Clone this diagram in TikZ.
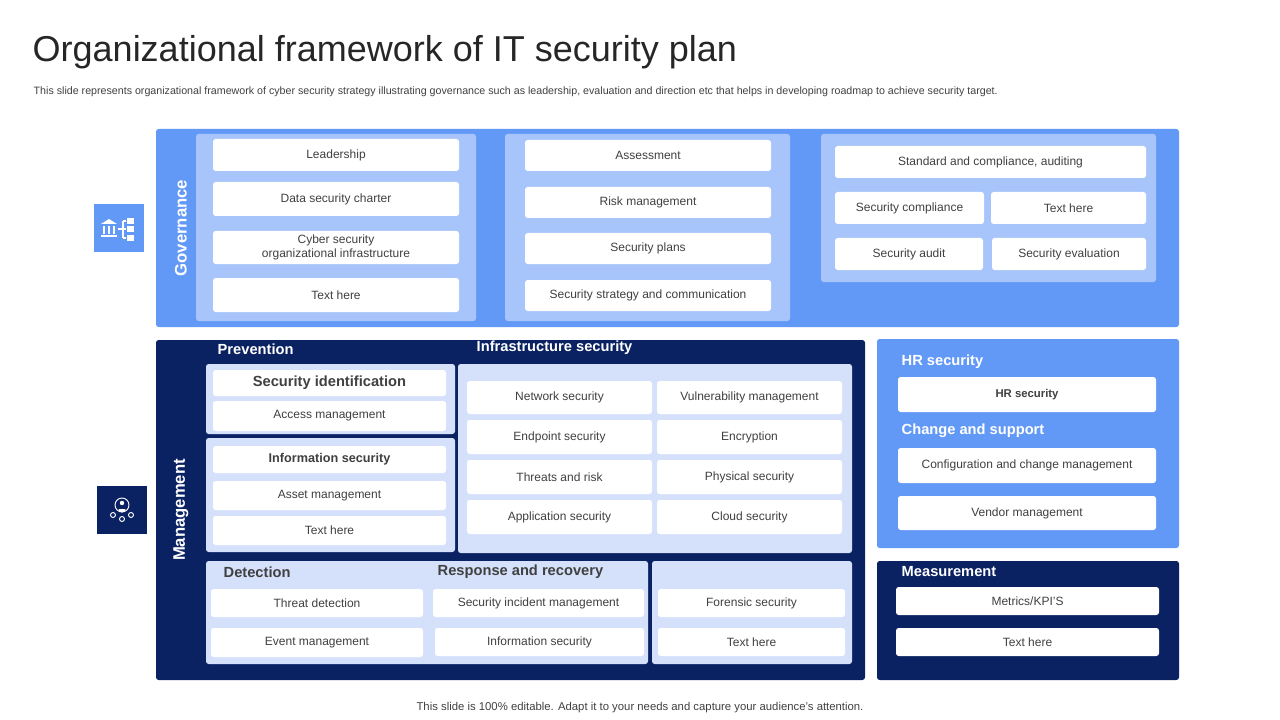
\documentclass[tikz,border=0pt]{standalone}
\usepackage{fontspec}
\setmainfont{Liberation Sans}
\usetikzlibrary{fit}
\definecolor{govblue}{HTML}{6399F6}
\definecolor{govpanel}{HTML}{A7C5FA}
\definecolor{mgmtnavy}{HTML}{0B2262}
\definecolor{mgmtpanel}{HTML}{D5E1FB}
\definecolor{boxtext}{HTML}{404040}
\tikzset{
  panel/.style={inner sep=0pt, rounded corners=2pt},
  item/.style={panel, fill=white, text=boxtext, font=\fontsize{9}{10.5}\selectfont, align=center},
  boldhead/.style={item, font=\fontsize{11}{13}\selectfont\bfseries},
  subhead/.style={item, font=\fontsize{8.5}{10}\selectfont\bfseries},
  sidelabel/.style={rotate=90, text=white, font=\fontsize{12.5}{14}\selectfont\bfseries},
  whitehead/.style={anchor=west, text=white, font=\fontsize{11}{13}\selectfont\bfseries},
  greyhead/.style={anchor=west, text=boxtext, font=\fontsize{11}{13}\selectfont\bfseries},
}
% box from corner (x1,y1) to corner (x2,y2)
\newcommand{\rbox}[6]{\node[#1, fit={(#3,#4)(#5,#6)}] (#2) {};}
\newcommand{\tbox}[7]{\node[#1, fit={(#3,#4)(#5,#6)}] (#2) {}; \node[#1, fill=none] at (#2.center) {#7};}
\begin{document}
\begin{tikzpicture}[x=0.75pt, y=-0.75pt]
\useasboundingbox (0,0) rectangle (1280,720);
% title
\node[anchor=west, font=\fontsize{27}{30}\selectfont, text=black!85] (title) at (28,52) {Organizational framework of IT security plan};
\node[anchor=west, font=\fontsize{8}{9}\selectfont, text=boxtext] (subtitle) at (29,92) {This slide represents organizational framework of cyber security strategy illustrating governance such as leadership, evaluation and direction etc that helps in developing roadmap to achieve security target.};
\node[font=\fontsize{8.5}{10}\selectfont, text=boxtext] (footer) at (640,708) {This slide is 100\% editable. Adapt it to your needs and capture your audience's attention.};

% governance
\rbox{panel, fill=govblue}{gov}{156}{129}{1179}{327}
\rbox{panel, fill=govblue, rounded corners=0pt}{govicon}{94}{204}{144}{252}
\node[sidelabel] (govlabel) at (181,228) {Governance};
\rbox{panel, fill=govpanel}{govA}{196}{134}{476}{321}
\tbox{item}{lead}{213}{139}{459}{171}{Leadership}
\tbox{item}{charter}{213}{182}{459}{216}{Data security charter}
\tbox{item}{cyber}{213}{231}{459}{264}{Cyber security\\organizational infrastructure}
\tbox{item}{govtxt}{213}{278}{459}{312}{Text here}
\rbox{panel, fill=govpanel}{govB}{505}{134}{790}{321}
\tbox{item}{assess}{525}{140}{771}{171}{Assessment}
\tbox{item}{risk}{525}{187}{771}{218}{Risk management}
\tbox{item}{plans}{525}{233}{771}{264}{Security plans}
\tbox{item}{strategy}{525}{280}{771}{311}{Security strategy and communication}
\rbox{panel, fill=govpanel}{govC}{821}{134}{1156}{282}
\tbox{item}{standard}{835}{146}{1146}{178}{Standard and compliance, auditing}
\tbox{item}{compl}{835}{192}{984}{224}{Security compliance}
\tbox{item}{govtxt2}{991}{192}{1146}{224}{Text here}
\tbox{item}{audit}{835}{238}{983}{270}{Security audit}
\tbox{item}{evalu}{992}{238}{1146}{270}{Security evaluation}
% governance icon
\begin{scope}[white]
  \fill (101,224) -- (109,219) -- (117,224) -- cycle;
  \fill (101,235) rectangle (117,237);
  \foreach \xa in {103,108,113} \fill (\xa,226) rectangle (\xa+2,234);
  \draw[line width=0.8pt] (118,229) -- (123,229) (123,221) -- (123,238) (123,221) -- (126,221) (123,229) -- (126,229) (123,238) -- (126,238);
  \fill (127,218) rectangle (134,224);
  \fill (127,226) rectangle (134,232);
  \fill (127,235) rectangle (134,241);
\end{scope}

% management
\rbox{panel, fill=mgmtnavy}{mgmt}{156}{340}{865}{680}
\rbox{panel, fill=mgmtnavy, rounded corners=0pt}{mgmticon}{97}{486}{147}{534}
\node[sidelabel] (mgmtlabel) at (181,510) {Management};
\node[whitehead] (prev) at (213,349) {Prevention};
\node[whitehead] (infra) at (472,348) {Infrastructure security};
\rbox{panel, fill=mgmtpanel}{prevA}{206}{364}{455}{434}
\tbox{boldhead}{secid}{213}{370}{446}{396}{Security identification}
\tbox{item}{access}{213}{401}{446}{431}{Access management}
\rbox{panel, fill=mgmtpanel}{prevB}{206}{438}{455}{552}
\tbox{boldhead, font=\fontsize{9.5}{11}\selectfont\bfseries}{infosec}{213}{446}{446}{473}{Information security}
\tbox{item}{asset}{213}{481}{446}{510}{Asset management}
\tbox{item}{prevtxt}{213}{516}{446}{545}{Text here}
\rbox{panel, fill=mgmtpanel}{infrap}{458}{364}{852}{553}
\tbox{item}{network}{467}{381}{652}{414}{Network security}
\tbox{item}{vulner}{657}{381}{842}{414}{Vulnerability management}
\tbox{item}{endpoint}{467}{420}{652}{454}{Endpoint security}
\tbox{item}{encrypt}{657}{420}{842}{454}{Encryption}
\tbox{item}{threats}{467}{460}{652}{494}{Threats and risk}
\tbox{item}{physical}{657}{460}{842}{494}{Physical security}
\tbox{item}{appsec}{467}{500}{652}{534}{Application security}
\tbox{item}{cloud}{657}{500}{842}{534}{Cloud security}
\rbox{panel, fill=mgmtpanel}{detp}{206}{561}{648}{664}
\node[greyhead] (detect) at (219,572) {Detection};
\node[greyhead] (respond) at (433,572) {Response and recovery};
\tbox{item}{threatdet}{211}{589}{423}{617}{Threat detection}
\tbox{item}{event}{211}{628}{423}{657}{Event management}
\tbox{item}{incident}{433}{589}{644}{617}{Security incident management}
\tbox{item}{infosec2}{435}{628}{644}{656}{Information security}
\rbox{panel, fill=mgmtpanel}{forp}{652}{561}{852}{664}
\tbox{item}{forensic}{658}{589}{845}{617}{Forensic security}
\tbox{item}{fortxt}{658}{628}{845}{656}{Text here}
% management icon
\begin{scope}[white, line width=0.7pt]
  \draw (122,505) circle (7);
  \fill (122,503) circle (2.2);
  \fill (118.5,509) arc (180:0:3.5) -- cycle;
  \draw (113,515) circle (2.5) (122,519) circle (2.5) (131,515) circle (2.5);
\end{scope}

% HR
\rbox{panel, fill=govblue}{hr}{877}{339}{1179}{548}
\node[whitehead] (hrhead) at (897,362) {HR security};
\tbox{subhead}{hrsec}{898}{377}{1156}{412}{HR security}
\node[whitehead] (change) at (897,431) {Change and support};
\tbox{item}{config}{898}{448}{1156}{483}{Configuration and change management}
\tbox{item}{vendor}{898}{496}{1156}{530}{Vendor management}

% measurement
\rbox{panel, fill=mgmtnavy}{meas}{877}{561}{1179}{680}
\node[whitehead] (measure) at (897,572) {Measurement};
\tbox{item}{metrics}{896}{587}{1159}{615}{Metrics/KPI'S}
\tbox{item}{meastxt}{896}{628}{1159}{656}{Text here}
\end{tikzpicture}
\end{document}
